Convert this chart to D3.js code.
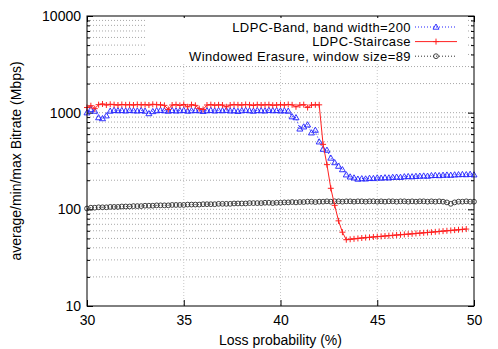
<!DOCTYPE html>
<html>
<head>
<meta charset="utf-8">
<script src="https://cdn.jsdelivr.net/npm/d3@7"></script>
<style>
  body { margin: 0; background: #fff; }
  text { font-family: "Liberation Sans", Arial, sans-serif; font-size: 14px; fill: #000; }
</style>
</head>
<body>
<svg id="chart" width="498" height="349"></svg>
<script>
// loss probability samples (%)
const lossPct = [30.0,30.2,30.4,30.6,30.8,31.0,31.2,31.4,31.6,31.8,32.0,32.2,32.4,32.6,32.8,33.0,33.2,33.4,33.6,33.8,
  34.0,34.2,34.4,34.6,34.8,35.0,35.2,35.4,35.6,35.8,36.0,36.2,36.4,36.6,36.8,37.0,37.2,37.4,37.6,37.8,
  38.0,38.2,38.4,38.6,38.8,39.0,39.2,39.4,39.6,39.8,40.0,40.2,40.4,40.6,40.8,41.0,41.2,41.4,41.6,41.8,
  42.0,42.2,42.4,42.6,42.8,43.0,43.2,43.4,43.6,43.8,44.0,44.2,44.4,44.6,44.8,45.0,45.2,45.4,45.6,45.8,
  46.0,46.2,46.4,46.6,46.8,47.0,47.2,47.4,47.6,47.8,48.0,48.2,48.4,48.6,48.8,49.0,49.2,49.4,49.6,49.8,50.0];

const bandRate = [1000,1080,1040,890,870,930,1040,1060,1050,1055,1045,1060,1050,1045,1055,1040,980,1030,1050,1060,
  1050,1040,1055,1045,1050,1060,1040,1050,1055,1050,1035,1050,1060,1045,1055,1050,1060,1045,1050,1035,
  1050,1060,1050,1040,1055,1050,1045,1060,1050,1055,1045,1050,1040,910,890,680,715,750,620,660,
  500,420,410,340,305,280,258,228,217,212,206,208,207,210,209,212,211,213,212,215,
  216,215,218,219,218,220,221,222,221,224,225,224,226,227,226,228,229,230,229,231,228];

const staircaseRate = [1130,1180,1100,1210,1230,1200,1220,1210,1200,1215,1205,1210,1200,1215,1205,1210,1200,1220,1210,1205,
  1190,1080,1200,1210,1190,1215,1150,1210,1190,1100,1080,1200,1210,1195,1205,1200,1150,1200,1210,1205,
  1200,1215,1205,1190,1210,1200,1205,1210,1195,1200,1210,1200,1215,1205,1150,1200,1210,1130,1200,1205,
  1205,470,290,165,110,76,58,48.5,49,49.5,50,50.5,51,51.3,51.8,52.2,52.5,53,53.4,53.8,
  54.2,54.6,55,55.4,55.8,56.3,56.7,57.2,57.6,58,58.5,59,59.5,60,60.5,61,61.5,62,62.5];

const windowedRate = [102,104,104,105,105,105,106,106,106,107,107,107,108,108,108,109,109,109,110,110,
  110,110,111,111,111,111,112,112,112,112,113,113,113,113,114,114,114,114,115,115,
  115,115,116,116,116,116,117,117,116,117,117,118,118,119,118,119,119,120,120,119,
  120,120,121,120,121,121,120,121,121,120,121,121,120,121,121,120,121,120,121,121,
  120,121,121,120,121,120,121,121,120,121,120,121,120,118,114,118,120,120,121,120,120];

const xTicks = [30, 35, 40, 45, 50];
const yMajor = [10, 100, 1000, 10000];
const yMinor = [20,30,40,50,60,70,80,90,200,300,400,500,600,700,800,900,2000,3000,4000,5000,6000,7000,8000,9000];

const series = [
  {name: "LDPC-Band, band width=200", values: bandRate, color: "#2020ff", dash: "1,2", marker: "triangle"},
  {name: "LDPC-Staircase", values: staircaseRate, color: "#ff2020", dash: null, marker: "plus"},
  {name: "Windowed Erasure, window size=89", values: windowedRate, color: "#303030", dash: "1,2", marker: "circle"}
];

const svg = d3.select("#chart");
const pLeft = 87, pRight = 474, pTop = 16, pBottom = 306;

const x = d3.scaleLinear().domain([30, 50]).range([pLeft, pRight]);
const y = d3.scaleLog().domain([10, 10000]).range([pBottom, pTop]);

// grid
const grid = svg.append("g");
grid.selectAll("line.h")
    .data(yMajor.concat(yMinor).filter(v => v > 10 && v < 10000))
    .enter().append("line")
    .attr("x1", pLeft).attr("x2", pRight)
    .attr("y1", d => y(d)).attr("y2", d => y(d))
    .attr("stroke", "#a8a8a8")
    .attr("stroke-dasharray", "1,2");
grid.selectAll("line.v")
    .data(xTicks.slice(1, -1))
    .enter().append("line")
    .attr("y1", pTop).attr("y2", pBottom)
    .attr("x1", d => x(d)).attr("x2", d => x(d))
    .attr("stroke", "#c8c8c8")
    .attr("stroke-dasharray", "1,2");

// axes with inward ticks
const axisG = svg.append("g");
axisG.append("g").attr("transform", `translate(0,${pBottom})`)
    .call(d3.axisBottom(x).tickValues(xTicks).tickSizeInner(-6).tickSizeOuter(0).tickPadding(9));
axisG.append("g").attr("transform", `translate(0,${pTop})`)
    .call(d3.axisTop(x).tickValues(xTicks).tickSizeInner(-6).tickSizeOuter(0).tickFormat(""));
axisG.append("g").attr("transform", `translate(${pLeft},0)`)
    .call(d3.axisLeft(y).tickValues(yMajor).tickSizeInner(-6).tickSizeOuter(0).tickPadding(6).tickFormat(d3.format("d")));
axisG.append("g").attr("transform", `translate(${pLeft},0)`)
    .call(d3.axisLeft(y).tickValues(yMinor).tickSizeInner(-3).tickSizeOuter(0).tickFormat(""));
axisG.append("g").attr("transform", `translate(${pRight},0)`)
    .call(d3.axisRight(y).tickValues(yMajor).tickSizeInner(-6).tickSizeOuter(0).tickFormat(""));
axisG.append("g").attr("transform", `translate(${pRight},0)`)
    .call(d3.axisRight(y).tickValues(yMinor).tickSizeInner(-3).tickSizeOuter(0).tickFormat(""));
axisG.selectAll(".domain").remove();
axisG.selectAll("text").style("font-family", "'Liberation Sans', Arial, sans-serif").style("font-size", "14px").attr("fill", "#000");
axisG.selectAll("line").attr("stroke", "#000");

// legend background
svg.append("rect")
    .attr("x", 146).attr("y", 18).attr("width", 320).attr("height", 45)
    .attr("fill", "#fff");

// markers
function drawMarker(g, type, cx, cy, color) {
  if (type === "triangle") {
    g.append("path")
      .attr("d", `M${cx},${cy - 3}L${cx + 3},${cy + 2.2}L${cx - 3},${cy + 2.2}Z`)
      .attr("fill", "none").attr("stroke", color).attr("stroke-width", 0.9);
  } else if (type === "plus") {
    g.append("path")
      .attr("d", `M${cx - 3},${cy}H${cx + 3}M${cx},${cy - 3}V${cy + 3}`)
      .attr("stroke", color).attr("stroke-width", 1);
  } else {
    g.append("circle").attr("cx", cx).attr("cy", cy).attr("r", 2.4)
      .attr("fill", "none").attr("stroke", color).attr("stroke-width", 0.9);
  }
}

const line = d3.line().x(d => x(d[0])).y(d => y(d[1]));
const plot = svg.append("g");
// draw bottom series first so band/staircase sit on top
[2, 0, 1].forEach(i => {
  const s = series[i];
  const pts = s.values.map((v, j) => [lossPct[j], v]);
  const g = plot.append("g");
  g.append("path")
    .attr("d", line(pts))
    .attr("fill", "none")
    .attr("stroke", s.color)
    .attr("stroke-width", 1)
    .attr("stroke-dasharray", s.dash);
  pts.forEach(p => drawMarker(g, s.marker, x(p[0]), y(p[1]), s.color));
});

// frame
svg.append("rect")
    .attr("x", pLeft).attr("y", pTop).attr("width", pRight - pLeft).attr("height", pBottom - pTop)
    .attr("fill", "none").attr("stroke", "#000").attr("stroke-width", 1);

// legend
const legend = svg.append("g");
series.forEach((s, i) => {
  const ly = 27 + i * 14.6;
  legend.append("text")
    .attr("x", 411).attr("y", ly).attr("dy", "0.35em")
    .attr("text-anchor", "end")
    .style("font-size", "13px")
    .style("letter-spacing", "0.4px")
    .text(s.name);
  legend.append("line")
    .attr("x1", 415).attr("x2", 457).attr("y1", ly).attr("y2", ly)
    .attr("stroke", s.color).attr("stroke-dasharray", s.dash);
  drawMarker(legend, s.marker, 436, ly, s.color);
});

// axis titles
svg.append("text")
    .attr("x", (pLeft + pRight) / 2).attr("y", 345)
    .attr("text-anchor", "middle")
    .text("Loss probability (%)");
svg.append("text")
    .attr("transform", `translate(21,${(pTop + pBottom) / 2}) rotate(-90)`)
    .attr("text-anchor", "middle")
    .text("average/min/max Bitrate (Mbps)");
</script>
</body>
</html>
